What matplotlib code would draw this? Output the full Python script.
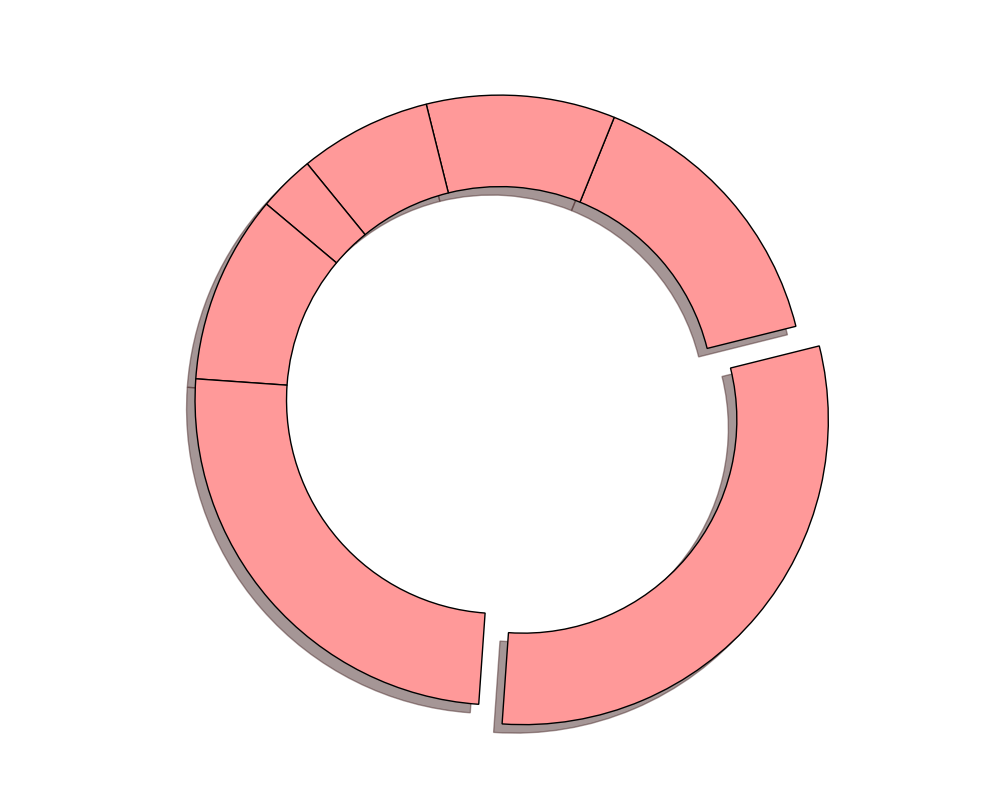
import matplotlib
matplotlib.use('Agg')
import matplotlib.pyplot as plt

# slice shares in percent, counter-clockwise from the start angle
sizes = [30, 15, 10, 7, 3, 10, 25]
explode = [0.1, 0, 0, 0, 0, 0, 0]
colors = ['#ff9999'] * len(sizes)

fig = plt.figure(figsize=(10, 8), dpi=100)
ax = fig.add_axes([0, 0.0234, 1, 0.953])

ax.pie(sizes, explode=explode, colors=colors, shadow=True,
       startangle=266, counterclock=True,
       wedgeprops=dict(width=0.3, edgecolor='black', linewidth=1))
ax.set_aspect('equal')
ax.set_xlim(-1.25, 1.25)
ax.set_ylim(-1.25, 1.25)

fig.savefig('out.png', dpi=100)
